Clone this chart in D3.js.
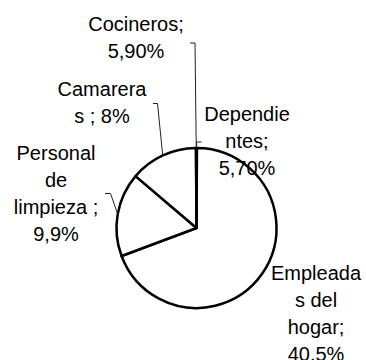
<!DOCTYPE html>
<html>
<head>
<meta charset="utf-8">
<script src="https://cdn.jsdelivr.net/npm/d3@7"></script>
<style>
  html, body { margin: 0; padding: 0; background: #fff; }
  svg { display: block; }
  text { font-family: "Liberation Sans", Arial, sans-serif; fill: #000; }
</style>
</head>
<body>
<svg id="chart" width="366" height="360"></svg>
<script>
// Occupations and their shares (as entered in the source sheet)
const categories = ["Dependientes", "Empleadas del hogar", "Personal de limpieza", "Camareras", "Cocineros"];
const values = [0.057, 40.5, 9.9, 8, 0.059];
const valueLabels = ["5,70%", "40.5%", "9,9%", "8%", "5,90%"];
// Wrapped label text, line by line
const labelLines = [
  ["Dependie", "ntes;", "5,70%"],
  ["Empleada", "s del", "hogar;", "40.5%"],
  ["Personal", "de", "limpieza ;", "9,9%"],
  ["Camarera", "s ; 8%"],
  ["Cocineros;", "5,90%"]
];

const svg = d3.select("#chart");
const cx = 196.5, cy = 228, r = 80;
const lineH = 27;

// Label placement: centre x, first baseline, leader elbow and tick end
const layout = [
  { x: 247, y: 121, elbow: [196.5, 142], tick: [201.5, 142] },
  { x: 316, y: 280, elbow: null, tick: null },
  { x: 56, y: 159.5, elbow: [110.5, 193.5], tick: [105, 193.5] },
  { x: 102, y: 96, elbow: [157.5, 103.5], tick: [153, 103.5] },
  { x: 136, y: 30.5, elbow: [195, 43], tick: [190, 43] }
];

const pie = d3.pie().sort(null).value(d => d)
  .startAngle(0).endAngle(2 * Math.PI);
const arcs = pie(values);
const arc = d3.arc().innerRadius(0).outerRadius(r);

const g = svg.append("g").attr("transform", `translate(${cx},${cy})`);

g.selectAll("path.slice")
  .data(arcs)
  .join("path")
  .attr("class", "slice")
  .attr("d", arc)
  .attr("fill", "#fff")
  .attr("stroke", "#000")
  .attr("stroke-width", 2.5)
  .attr("stroke-linejoin", "round");

// Leader lines from the slice edge to the labels
const line = d3.line();
arcs.forEach((a, i) => {
  const L = layout[i];
  if (!L.elbow) return;
  const mid = (a.startAngle + a.endAngle) / 2;
  const p0 = [cx + r * Math.sin(mid), cy - r * Math.cos(mid)];
  svg.append("path")
    .attr("d", line([p0, L.elbow, L.tick]))
    .attr("fill", "none")
    .attr("stroke", "#222")
    .attr("stroke-width", 1);
});

// Data labels
arcs.forEach((a, i) => {
  const L = layout[i];
  const t = svg.append("text")
    .attr("text-anchor", "middle")
    .attr("font-size", 20);
  labelLines[i].forEach((s, k) => {
    t.append("tspan")
      .attr("x", L.x)
      .attr("y", L.y + k * lineH)
      .text(s);
  });
});
</script>
</body>
</html>
